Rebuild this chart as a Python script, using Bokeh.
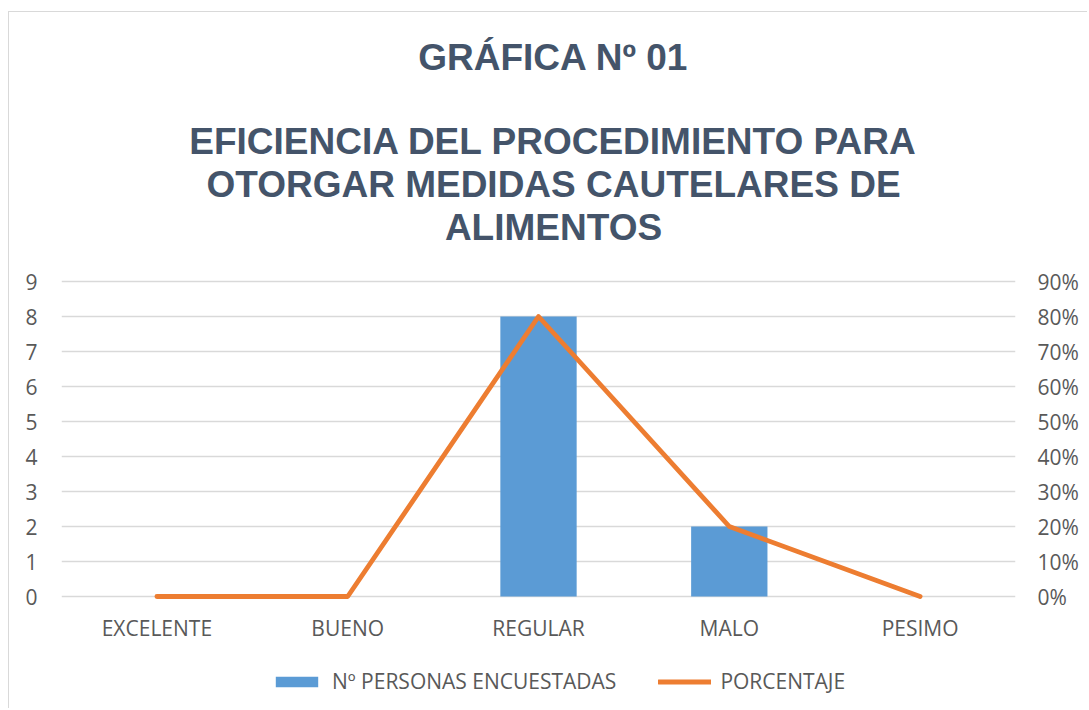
from bokeh.plotting import figure
from bokeh.models import (Range1d, FactorRange, LinearAxis, Label, Legend, LegendItem,
                          FixedTicker, NumeralTickFormatter, ColumnDataSource)
from bokeh.embed import file_html
from bokeh.resources import INLINE

# ---- data ----
categories = ["EXCELENTE", "BUENO", "REGULAR", "MALO", "PESIMO"]
personas = [0, 0, 8, 2, 0]
porcentaje = [0.0, 0.0, 0.8, 0.2, 0.0]
left_ticks = [0, 1, 2, 3, 4, 5, 6, 7, 8, 9]
right_ticks = [0.0, 0.1, 0.2, 0.3, 0.4, 0.5, 0.6, 0.7, 0.8, 0.9]
title_lines = ["GRÁFICA Nº 01", "EFICIENCIA DEL PROCEDIMIENTO PARA",
               "OTORGAR MEDIDAS CAUTELARES DE", "ALIMENTOS"]
series_names = ["Nº PERSONAS ENCUESTADAS", "PORCENTAJE"]

BLUE = "#5B9BD5"
ORANGE = "#ED7D31"
GRID = "#D9D9D9"
TXT = "#595959"
TITLE = "#44546A"
FONT = "Open Sans"
FS = "21px"

# ---- layout (page pixels) ----
W, H = 1079, 697
CANVAS_TOP = 12
CANVAS_BOTTOM = CANVAS_TOP + H
Y0_PX, Y9_PX = 596, 281           # where 0 and 9 of the count axis sit
PX_PER_UNIT = (Y0_PX - Y9_PX) / 9.0
y_top = (Y0_PX - CANVAS_TOP) / PX_PER_UNIT
y_bot = -(CANVAS_BOTTOM - Y0_PX) / PX_PER_UNIT
PCT_SCALE = 0.1                    # 9 on the left axis = 90 % on the right axis

p = figure(width=W, height=H, x_range=FactorRange(*categories, range_padding=0),
           y_range=Range1d(y_bot, y_top), output_backend="svg", toolbar_location=None,
           title=None, min_border_left=52, min_border_right=73,
           min_border_top=0, min_border_bottom=0)
p.margin = (11, 0, 0, 8)
p.extra_y_ranges = {"pct": Range1d(y_bot * PCT_SCALE, y_top * PCT_SCALE)}
p.outline_line_color = None
p.background_fill_color = "white"
p.border_fill_color = "white"
p.styles = {"border-top": "1px solid #D9D9D9", "border-left": "1px solid #D9D9D9"}

src = ColumnDataSource(dict(cat=categories, n=personas, pct=porcentaje))
bars = p.vbar(x="cat", top="n", width=0.4, source=src, fill_color=BLUE, line_color=None)
line = p.line(x="cat", y="pct", source=src, y_range_name="pct", line_color=ORANGE,
              line_width=4.8, line_cap="round", line_join="round")

# grid
p.xgrid.grid_line_color = None
p.ygrid.grid_line_color = GRID
p.ygrid.grid_line_width = 1.3
p.ygrid.ticker = FixedTicker(ticks=left_ticks)

def style_axis(ax, standoff):
    ax.axis_line_color = None
    ax.major_tick_line_color = None
    ax.minor_tick_line_color = None
    ax.major_tick_out = 0
    ax.major_tick_in = 0
    ax.minor_tick_out = 0
    ax.major_label_text_font = FONT
    ax.major_label_text_font_size = FS
    ax.major_label_text_color = TXT
    ax.major_label_standoff = standoff

yl = p.yaxis[0]
yl.ticker = FixedTicker(ticks=left_ticks)
style_axis(yl, 24)
xa = p.xaxis[0]
xa.fixed_location = 0
style_axis(xa, 17)

yr = LinearAxis(y_range_name="pct", ticker=FixedTicker(ticks=right_ticks),
                formatter=NumeralTickFormatter(format="0%"))
style_axis(yr, 22)
p.add_layout(yr, "right")

# title lines (baselines, page px); title block is centred slightly right of the plot centre
TITLE_CENTER_PX = 553
PX_PER_CAT = (1015 - 61) / len(categories)
title_x = (TITLE_CENTER_PX - 61) / PX_PER_CAT
baselines_px = [57.0, 141.0, 184.0, 227.0]
for txt, bpx in zip(title_lines, baselines_px):
    p.add_layout(Label(x=title_x, y=(Y0_PX - bpx) / PX_PER_UNIT, text=txt,
                       text_align="center", text_baseline="alphabetic",
                       text_font="Liberation Sans", text_font_style="bold",
                       text_font_size="37px", text_color=TITLE))

legend = Legend(items=[LegendItem(label=series_names[0], renderers=[bars]),
                       LegendItem(label=series_names[1], renderers=[line])],
                orientation="horizontal", location=(209, 14), padding=0, margin=0,
                glyph_width=53, glyph_height=13, label_standoff=9, spacing=42,
                label_text_font=FONT, label_text_font_size=FS, label_text_color=TXT,
                border_line_color=None, background_fill_alpha=0)
p.add_layout(legend, "center")

open("out.html", "w").write(file_html(p, INLINE))
